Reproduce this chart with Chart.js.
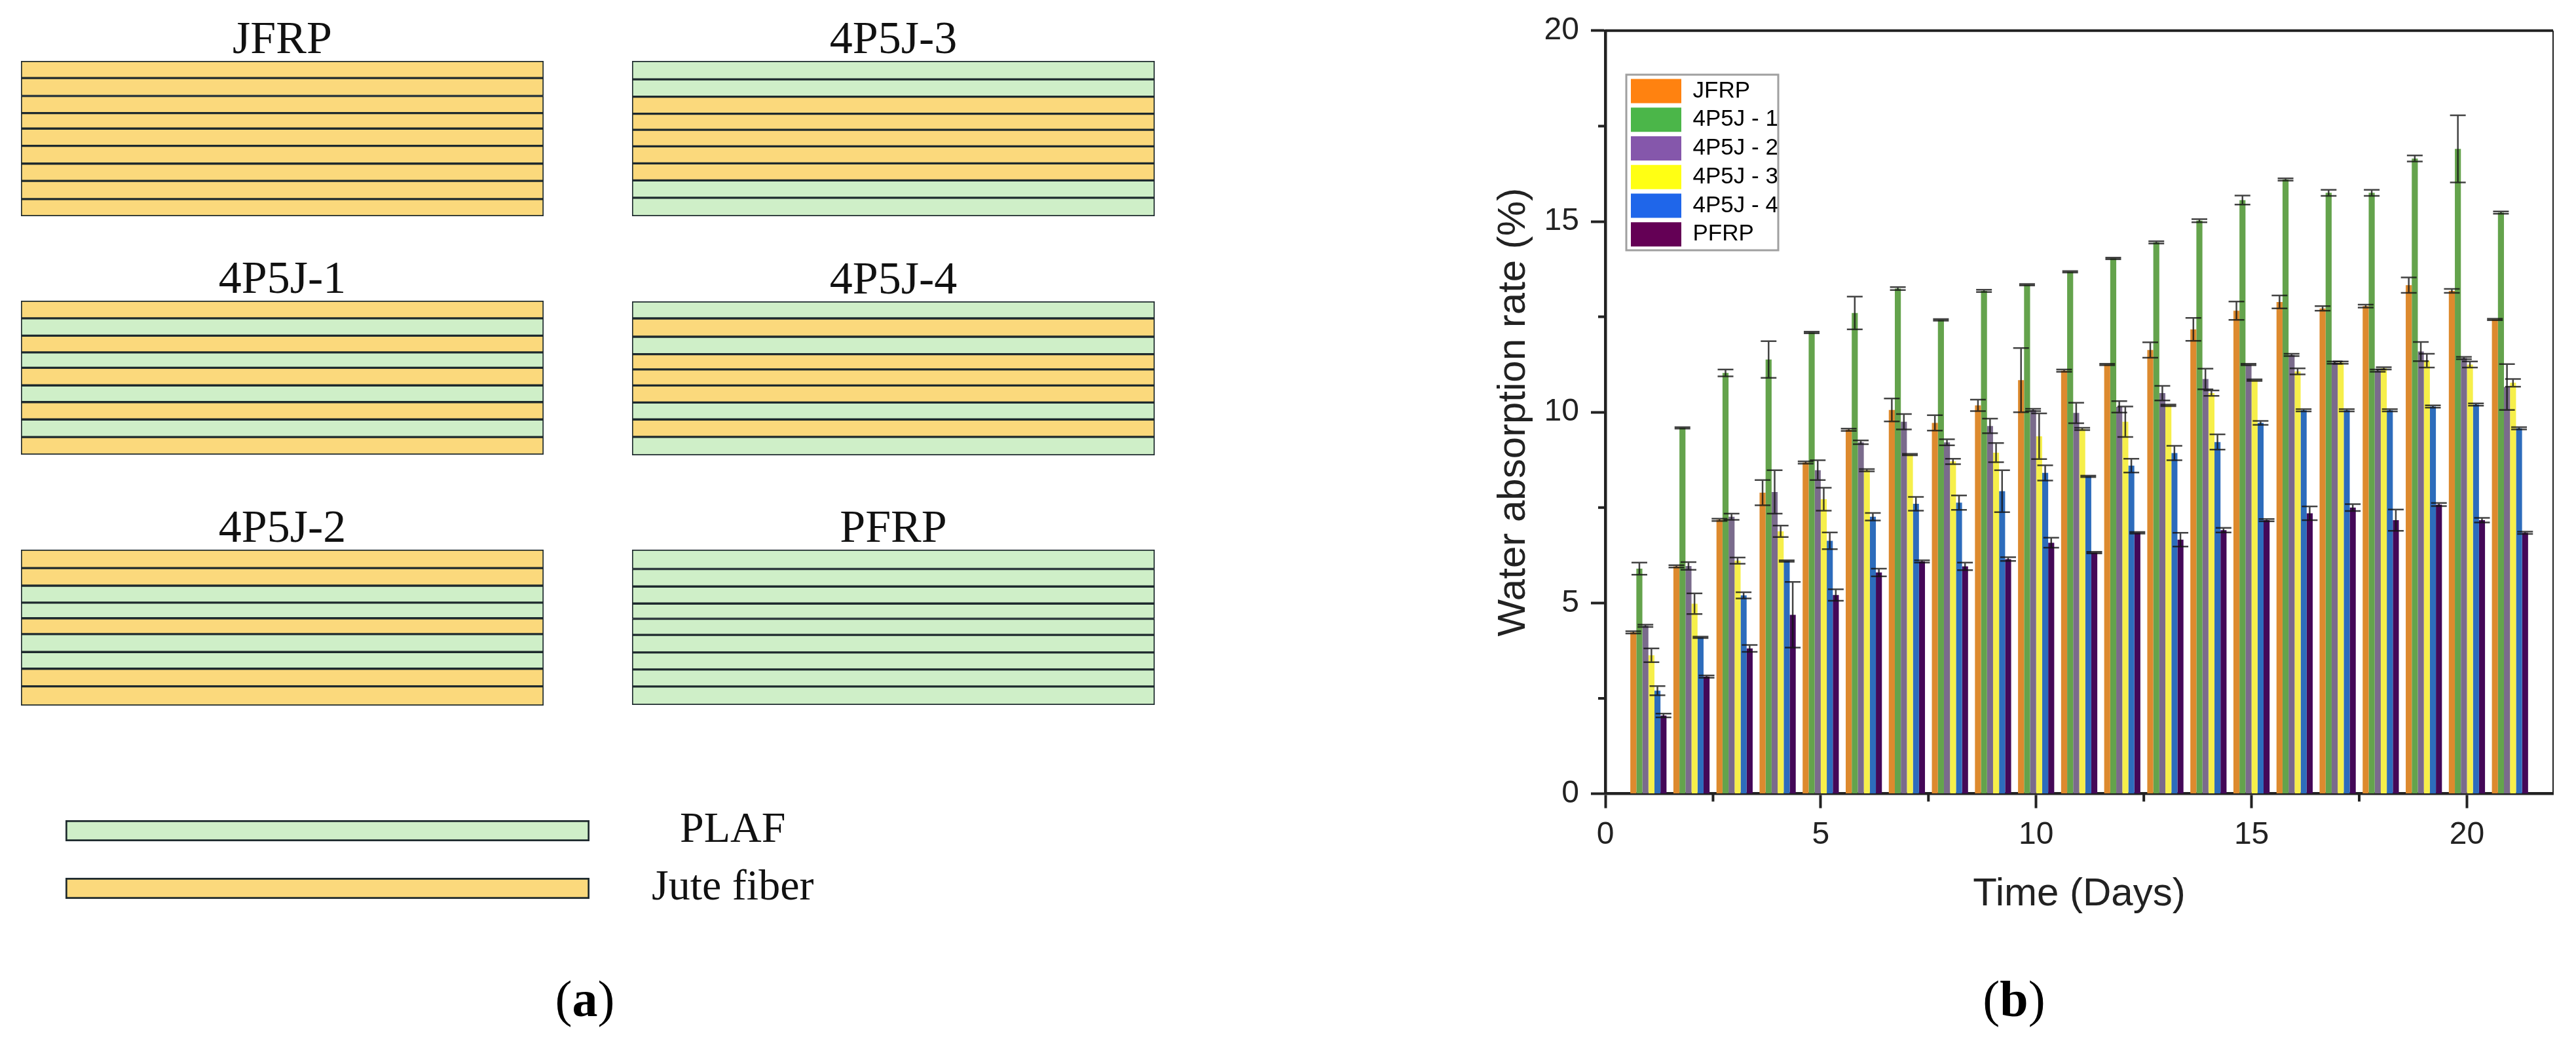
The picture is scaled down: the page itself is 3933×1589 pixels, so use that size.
<!DOCTYPE html>
<html>
<head>
<meta charset="utf-8">
<title>Layup schematic and water absorption</title>
<script src="https://cdn.jsdelivr.net/npm/chart.js@4/dist/chart.umd.min.js"></script>
<style>
  html, body { margin: 0; background: #fff; width: 3933px; height: 1589px; overflow: hidden; }
  canvas { position: absolute; }
  .cap { position: absolute; top: 1480px; width: 200px; text-align: center;
         font: 78px/90px "Liberation Serif", serif; color: #000; }
</style>
</head>
<body>
<div id="panels"></div>
<canvas id="keyChart" style="left:100px;top:1224px" width="1240" height="176"></canvas>
<canvas id="absChart" style="left:2150px;top:0" width="1783" height="1589"></canvas>
<div class="cap" style="left:793px">(<b>a</b>)</div>
<div class="cap" style="left:2975px">(<b>b</b>)</div>

<script>
// panel (a): layer order top to bottom, J = jute, P = PLAF
const panelNames = ["JFRP", "4P5J-3", "4P5J-1", "4P5J-4", "4P5J-2", "PFRP"];
const panelLayers = ["JJJJJJJJJ", "PPJJJJJPP", "JPJPJPJPJ", "PJPJJJPJP", "JJPPJPPJJ", "PPPPPPPPP"];
// relative layer thickness
const panelThickness = [
  [77, 81, 77, 70, 78, 80, 78, 82, 77],
  [40, 38, 37, 35, 36, 37, 37, 38, 40],
  [62, 61, 59, 54, 62, 59, 61, 62, 62],
  [37, 40, 38, 33, 35, 37, 37, 38, 40],
  [65, 62, 60, 55, 56, 63, 59, 62, 68],
  [42, 38, 37, 33, 35, 38, 37, 37, 40]
];
const keyLabels = ["PLAF", "Jute fiber"];

// panel (b)
const days = [1, 2, 3, 4, 5, 6, 7, 8, 9, 10, 11, 12, 13, 14, 15, 16, 17, 18, 19, 20, 21];
const seriesNames = ["JFRP", "4P5J - 1", "4P5J - 2", "4P5J - 3", "4P5J - 4", "PFRP"];

const jfrp = [4.23, 5.96, 7.18, 7.89, 8.68, 9.54, 10.06, 9.72, 10.18, 10.84, 11.09, 11.25, 11.63, 12.17, 12.66, 12.89, 12.72, 12.78, 13.33, 13.18, 12.43];
const p1 = [5.9, 9.59, 11.03, 11.38, 12.09, 12.6, 13.24, 12.42, 13.18, 13.34, 13.68, 14.03, 14.45, 15.02, 15.56, 16.1, 15.75, 15.75, 16.65, 16.9, 15.23];
const p2 = [4.4, 5.97, 7.26, 7.91, 8.48, 9.21, 9.75, 9.21, 9.64, 10.06, 9.98, 10.14, 10.5, 10.87, 11.25, 11.5, 11.3, 11.09, 11.59, 11.42, 10.66];
const p3 = [3.63, 4.98, 6.11, 6.88, 7.72, 8.48, 8.89, 8.71, 8.94, 9.37, 9.56, 9.75, 10.18, 10.5, 10.84, 11.07, 11.3, 11.15, 11.35, 11.25, 10.77];
const p4 = [2.7, 4.1, 5.2, 6.1, 6.63, 7.26, 7.6, 7.63, 7.93, 8.41, 8.32, 8.6, 8.93, 9.22, 9.72, 10.05, 10.05, 10.05, 10.15, 10.2, 9.58];
const pfrp = [2.05, 3.07, 3.81, 4.69, 5.21, 5.8, 6.09, 5.96, 6.15, 6.58, 6.32, 6.84, 6.66, 6.91, 7.17, 7.35, 7.5, 7.17, 7.58, 7.17, 6.84];

const jfrpErr = [0.03, 0.03, 0.03, 0.33, 0.03, 0.03, 0.3, 0.2, 0.15, 0.84, 0.03, 0.02, 0.2, 0.3, 0.24, 0.17, 0.06, 0.04, 0.2, 0.05, 0.02];
const p1Err = [0.16, 0.02, 0.09, 0.48, 0.02, 0.43, 0.04, 0.02, 0.03, 0.02, 0.02, 0.02, 0.03, 0.04, 0.12, 0.03, 0.08, 0.08, 0.08, 0.88, 0.03];
const p2Err = [0.03, 0.1, 0.08, 0.57, 0.26, 0.05, 0.2, 0.08, 0.19, 0.03, 0.27, 0.15, 0.19, 0.27, 0.02, 0.03, 0.03, 0.03, 0.25, 0.03, 0.6];
const p3Err = [0.18, 0.27, 0.08, 0.15, 0.3, 0.03, 0.02, 0.07, 0.25, 0.6, 0.03, 0.4, 0.02, 0.07, 0.02, 0.08, 0.03, 0.03, 0.18, 0.08, 0.1];
const p4Err = [0.12, 0.02, 0.08, 0.02, 0.22, 0.1, 0.18, 0.19, 0.55, 0.2, 0.02, 0.18, 0.19, 0.2, 0.05, 0.03, 0.03, 0.03, 0.03, 0.03, 0.03];
const pfrpErr = [0.05, 0.03, 0.09, 0.86, 0.15, 0.1, 0.03, 0.1, 0.05, 0.13, 0.02, 0.02, 0.18, 0.06, 0.03, 0.18, 0.09, 0.28, 0.04, 0.06, 0.03];

const xMinorTicks = [2.5, 7.5, 12.5, 17.5];
const yMinorTicks = [2.5, 7.5, 12.5, 17.5];

const allSeries = [jfrp, p1, p2, p3, p4, pfrp];
const allErrors = [jfrpErr, p1Err, p2Err, p3Err, p4Err, pfrpErr];
const barColors = ["#dd8a2e", "#64a34c", "#7a6b8c", "#f6ef4a", "#2d6cbc", "#440858"];
const legendColors = ["#ff8210", "#4bb649", "#8557ab", "#ffff14", "#1f66ea", "#640055"];

const INK = "#222222";
const SANS = "'Liberation Sans', Arial, sans-serif";
const SERIF = "'Liberation Serif', 'Times New Roman', serif";
const fiberColor = { J: "#fbd97c", P: "#cfefc8" };
const layerLine = "#1e2a2e";

Chart.defaults.animation = false;
Chart.defaults.responsive = false;

/* ---------- panel (a): one stacked bar per layup ---------- */
const panelBoxes = [
  { left: 32, top: 93, height: 237 }, { left: 965, top: 93, height: 237 },
  { left: 32, top: 459, height: 235 }, { left: 965, top: 460, height: 235 },
  { left: 32, top: 839, height: 238 }, { left: 965, top: 839, height: 237 }
];
const TITLE_BLOCK = 80; // room above each rectangle for its title

panelNames.forEach((name, p) => {
  const box = panelBoxes[p];
  const canvas = document.createElement("canvas");
  canvas.width = 798;
  canvas.height = box.height + TITLE_BLOCK;
  canvas.style.left = box.left + "px";
  canvas.style.top = box.top - TITLE_BLOCK + "px";
  document.getElementById("panels").appendChild(canvas);

  const thick = panelThickness[p];
  new Chart(canvas, {
    type: "bar",
    data: {
      labels: [name],
      datasets: thick.map((t, i) => ({
        data: [t],
        backgroundColor: fiberColor[panelLayers[p][i]],
        borderColor: layerLine,
        borderWidth: 2,
        borderSkipped: false,
        barPercentage: 1,
        categoryPercentage: 1
      }))
    },
    options: {
      plugins: {
        legend: { display: false },
        tooltip: { enabled: false },
        title: {
          display: true,
          text: name,
          color: "#111",
          font: { family: SERIF, size: 70, weight: "normal", lineHeight: 60 / 70 },
          padding: { top: 20, bottom: 0 }
        }
      },
      scales: {
        x: { display: false, stacked: true },
        y: { display: false, stacked: true, reverse: true, min: 0, max: thick.reduce((a, b) => a + b, 0) }
      }
    }
  });
});

// PLAF / Jute fiber key, the labels are the category axis
new Chart(document.getElementById("keyChart"), {
  type: "bar",
  data: {
    labels: keyLabels,
    datasets: [{
      data: [1, 1],
      backgroundColor: [fiberColor.P, fiberColor.J],
      borderColor: layerLine,
      borderWidth: 3,
      borderSkipped: false,
      barThickness: 32
    }]
  },
  options: {
    indexAxis: "y",
    plugins: { legend: { display: false }, tooltip: { enabled: false } },
    scales: {
      x: { display: false, min: 0, max: 1 },
      y: {
        position: "right",
        grid: { display: false, drawTicks: false },
        border: { display: false },
        afterFit(scale) {
          scale.width = 440;
          scale.paddingTop = 0;
          scale.paddingBottom = 0;
        },
        ticks: { color: "#111", crossAlign: "center", padding: 95, font: { family: SERIF, size: 66 } }
      }
    }
  }
});

/* ---------- panel (b): grouped bars with error caps ---------- */

const errorBars = {
  id: "errorBars",
  afterDatasetsDraw(chart) {
    const { ctx, scales: { y } } = chart;
    ctx.save();
    ctx.lineWidth = 2.5;
    ctx.strokeStyle = "rgba(20,20,20,0.8)";
    chart.data.datasets.forEach((ds, s) => {
      chart.getDatasetMeta(s).data.forEach((bar, i) => {
        const hi = y.getPixelForValue(allSeries[s][i] + allErrors[s][i]);
        const lo = y.getPixelForValue(allSeries[s][i] - allErrors[s][i]);
        ctx.beginPath();
        ctx.moveTo(bar.x, hi);
        ctx.lineTo(bar.x, lo);
        ctx.moveTo(bar.x - 12, hi);
        ctx.lineTo(bar.x + 12, hi);
        ctx.moveTo(bar.x - 12, lo);
        ctx.lineTo(bar.x + 12, lo);
        ctx.stroke();
      });
    });
    ctx.restore();
  }
};

// Legend placement and frame, minor ticks, top/right frame lines.
const plotFrame = {
  id: "plotFrame",
  afterLayout(chart) {
    const pad = chart.legend.options.labels.padding;
    chart.legend.left = 340 - pad;
    chart.legend.top = 120.5 - pad;
  },
  afterDraw(chart) {
    const { ctx, chartArea: a, scales: { x, y } } = chart;
    ctx.save();
    ctx.strokeStyle = INK;
    ctx.lineWidth = 4;
    ctx.beginPath();
    ctx.moveTo(a.left, a.top);
    ctx.lineTo(a.right, a.top);
    ctx.stroke();
    ctx.lineWidth = 2;
    ctx.beginPath();
    ctx.moveTo(a.right, a.top);
    ctx.lineTo(a.right, a.bottom);
    ctx.stroke();
    ctx.lineWidth = 4;
    ctx.beginPath();
    xMinorTicks.forEach(v => {
      const px = x.getPixelForValue(v);
      ctx.moveTo(px, a.bottom);
      ctx.lineTo(px, a.bottom + 12);
    });
    yMinorTicks.forEach(v => {
      const py = y.getPixelForValue(v);
      ctx.moveTo(a.left, py);
      ctx.lineTo(a.left - 11, py);
    });
    ctx.stroke();
    ctx.strokeStyle = "#a0a0a0";
    ctx.lineWidth = 3;
    ctx.strokeRect(333, 114, 232, 268);
    ctx.restore();
  }
};

new Chart(document.getElementById("absChart"), {
  type: "bar",
  data: {
    datasets: seriesNames.map((name, s) => ({
      label: name,
      data: days.map((d, i) => ({ x: d, y: allSeries[s][i] })),
      backgroundColor: barColors[s],
      barPercentage: 1,
      categoryPercentage: 0.84
    }))
  },
  options: {
    layout: { padding: { top: 45.5, right: 35 } },
    plugins: {
      tooltip: { enabled: false },
      legend: {
        position: "chartArea",
        align: "start",
        labels: {
          boxWidth: 77,
          boxHeight: 37,
          padding: 6.75,
          color: INK,
          font: { family: SANS, size: 35 },
          generateLabels: () => seriesNames.map((text, i) => ({
            text, fillStyle: legendColors[i], strokeStyle: legendColors[i], lineWidth: 0, datasetIndex: i
          }))
        }
      }
    },
    scales: {
      x: {
        type: "linear",
        min: 0,
        max: 22,
        offset: false,
        afterFit(scale) { scale.height = 377.4; },
        grid: { offset: false, drawOnChartArea: false, tickLength: 22, tickWidth: 4, tickColor: INK },
        border: { color: INK, width: 4.5 },
        ticks: {
          stepSize: 5,
          includeBounds: false,
          maxRotation: 0,
          color: INK,
          padding: 12,
          font: { family: SANS, size: 48 },
          callback: v => String(v)
        },
        title: {
          display: true,
          text: "Time (Days)",
          color: INK,
          font: { family: SANS, size: 60 },
          padding: { top: 0, bottom: 188 }
        }
      },
      y: {
        min: 0,
        max: 20,
        afterFit(scale) { scale.width = 301; },
        grid: { drawOnChartArea: false, tickLength: 22, tickWidth: 4, tickColor: INK },
        border: { color: INK, width: 4.5 },
        ticks: {
          stepSize: 5,
          color: INK,
          padding: 18,
          font: { family: SANS, size: 48 },
          callback: v => String(v)
        },
        title: {
          display: true,
          text: "Water absorption rate (%)",
          color: INK,
          font: { family: SANS, size: 60 },
          padding: { top: 125, bottom: 0 }
        }
      }
    }
  },
  plugins: [errorBars, plotFrame]
});
</script>
</body>
</html>
